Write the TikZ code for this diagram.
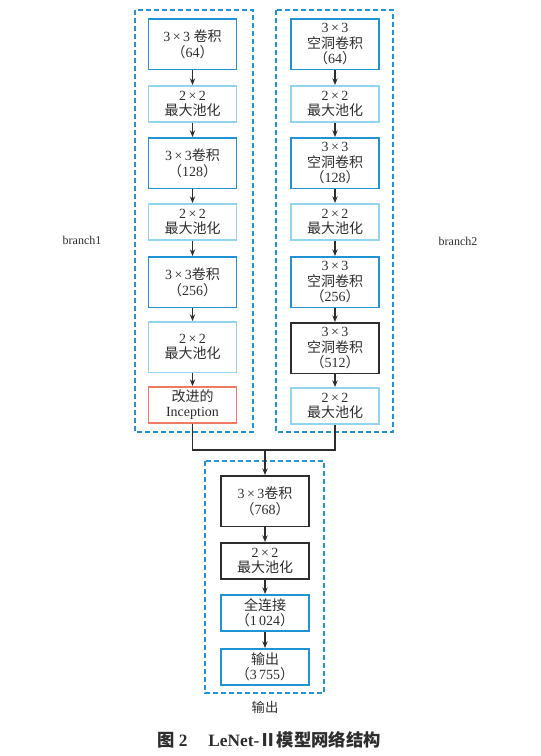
\documentclass[tikz,border=0pt]{standalone}
\usepackage{fontspec}
\setmainfont{Liberation Serif}
\newfontfamily\cjk{Noto Sans CJK SC}
\usepackage{xcolor}
\usepackage{tikz}
\usetikzlibrary{arrows.meta}
\definecolor{cblue}{RGB}{33,146,212}
\definecolor{clight}{RGB}{145,212,240}
\definecolor{corange}{RGB}{238,122,96}
\definecolor{cdark}{RGB}{45,45,45}
\newcommand\zh[1]{{\cjk #1}}
\newcommand\pn[1]{\zh{（}#1\zh{）}}
\begin{document}
\begin{tikzpicture}[x=0.75pt,y=-0.75pt,
  box/.style={draw,line width=1.2pt,align=center,anchor=north,minimum width=66pt,inner sep=0pt,text=cdark,font=\fontsize{10.5}{11.5}\selectfont},
  tall/.style={minimum height=38pt},short/.style={minimum height=27pt},
  conv/.style={box,draw=cblue},pool/.style={box,draw=clight},
  incep/.style={box,draw=corange},blk/.style={box,draw=cdark},
  grp/.style={draw=cblue,line width=1pt,dash pattern=on 4pt off 2pt},
  arr/.style={-{Stealth[length=5pt,width=4pt]},line width=0.8pt,draw=cdark}]
\useasboundingbox(0,0)rectangle(541,756);
% dashed groups
\draw[grp](135,10)rectangle(253,432);
\draw[grp](276,10)rectangle(393,432);
\draw[grp](205,461)rectangle(324,693);
% branch1
\node[conv,tall](L1)at(192.5,18){3\,×\,3 \zh{卷积}\\\pn{64}};
\node[pool,short](L2)at(192.5,85){2\,×\,2\\\zh{最大池化}};
\node[conv,tall](L3)at(192.5,137){3\,×\,3\zh{卷积}\\\pn{128}};
\node[pool,short](L4)at(192.5,203){2\,×\,2\\\zh{最大池化}};
\node[conv,tall](L5)at(192.5,256){3\,×\,3\zh{卷积}\\\pn{256}};
\node[pool,tall](L6)at(192.5,321){2\,×\,2\\\zh{最大池化}};
\node[incep,short](L7)at(192.5,386){\zh{改进的}\\Inception};
\draw[arr](L1)--(L2);\draw[arr](L2)--(L3);\draw[arr](L3)--(L4);
\draw[arr](L4)--(L5);\draw[arr](L5)--(L6);\draw[arr](L6)--(L7);
% branch2
\node[conv,tall](R1)at(335,18){3\,×\,3\\\zh{空洞卷积}\\\pn{64}};
\node[pool,short](R2)at(335,85){2\,×\,2\\\zh{最大池化}};
\node[conv,tall](R3)at(335,137){3\,×\,3\\\zh{空洞卷积}\\\pn{128}};
\node[pool,short](R4)at(335,203){2\,×\,2\\\zh{最大池化}};
\node[conv,tall](R5)at(335,256){3\,×\,3\\\zh{空洞卷积}\\\pn{256}};
\node[blk,tall](R6)at(335,322){3\,×\,3\\\zh{空洞卷积}\\\pn{512}};
\node[pool,short](R7)at(335,387){2\,×\,2\\\zh{最大池化}};
\draw[arr](R1)--(R2);\draw[arr](R2)--(R3);\draw[arr](R3)--(R4);
\draw[arr](R4)--(R5);\draw[arr](R5)--(R6);\draw[arr](R6)--(R7);
% merge
\coordinate(J)at(265,450);
\draw[line width=0.8pt,cdark](L7.south)|-(J)-|(R7.south);
% output part
\node[blk,tall](B1)at(265,475){3\,×\,3\zh{卷积}\\\pn{768}};
\node[blk,short](B2)at(265,542){2\,×\,2\\\zh{最大池化}};
\node[conv,short](B3)at(265,594){\zh{全连接}\\\pn{1\,024}};
\node[conv,short](B4)at(265,648){\zh{输出}\\\pn{3\,755}};
\draw[arr](J)--(B1);\draw[arr](B1)--(B2);\draw[arr](B2)--(B3);\draw[arr](B3)--(B4);
% labels
\node[text=cdark,font=\fontsize{9}{10}\selectfont](lb1)at(82,240){branch1};
\node[text=cdark,font=\fontsize{9}{10}\selectfont](lb2)at(458,241){branch2};
\node[text=cdark,font=\fontsize{10}{11}\selectfont](lbo)at(265,707){\zh{输出}};
\node[text=cdark,font=\fontsize{13}{14}\selectfont\bfseries](cap)at(269,740){\zh{图} 2\hspace{1.2em}LeNet-\zh{Ⅱ模型网络结构}};
\end{tikzpicture}
\end{document}
